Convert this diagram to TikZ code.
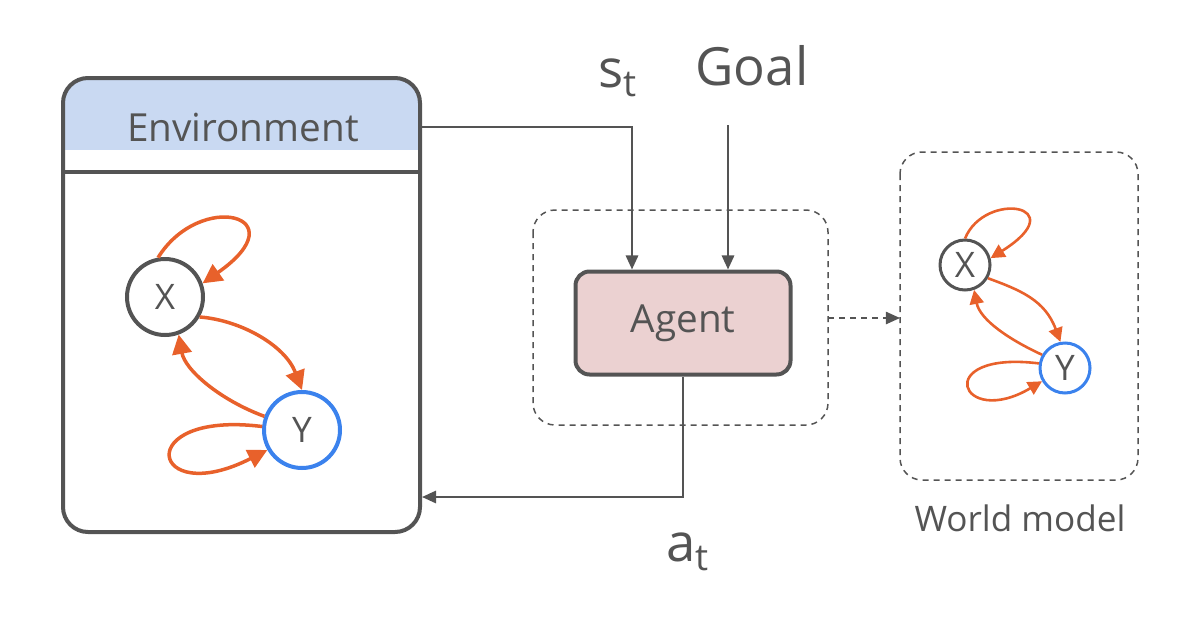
\documentclass[tikz,border=0pt]{standalone}
\usepackage{fontspec}
\setmainfont{Open Sans}
\usetikzlibrary{arrows.meta}
\newlength{\du}
\setlength{\du}{0.2mm}
\definecolor{boxgray}{rgb}{0.33, 0.33, 0.33}
\definecolor{envblue}{rgb}{0.79, 0.85, 0.95}
\definecolor{agentpink}{rgb}{0.92, 0.82, 0.82}
\definecolor{looporange}{rgb}{0.91, 0.38, 0.17}
\definecolor{ynodeblue}{rgb}{0.23, 0.51, 0.93}
\tikzset{
  flow/.style={line width=2.2\du, draw=boxgray, -{Triangle[length=8pt,width=7pt]}},
  bigcause/.style={line width=3.5\du, draw=looporange, -{Triangle[length=11pt,width=11pt]}},
  smallcause/.style={line width=2.6\du, draw=looporange, -{Triangle[length=8pt,width=8pt]}},
  var/.style={circle, line width=4\du, draw=boxgray, text=boxgray, font=\fontsize{20}{20}\selectfont},
  mathlabel/.style={text=boxgray, font=\fontsize{30}{30}\selectfont},
  dashbox/.style={draw=boxgray, line width=1.5\du, dash pattern=on 6\du off 5\du, rounded corners=22\du}
}
\begin{document}
\begin{tikzpicture}[x=\du,y=-\du]
\useasboundingbox (0,0) rectangle (1200,630);
% environment
\fill[envblue, rounded corners=25\du] (63,78) rectangle (420,172);
\fill[white] (63,150) rectangle (420,172);
\draw[boxgray, line width=4\du] (63,172) -- (420,172);
\draw[boxgray, line width=4\du, rounded corners=25\du] (63,78) rectangle (420,532);
\node[text=boxgray, font=\fontsize{22}{22}\selectfont] (env) at (243,128) {Environment};
\coordinate (envout) at (420,127);
\coordinate (envin) at (422,497);
\node[var, minimum size=76\du] (X) at (165,297) {X};
\node[var, draw=ynodeblue, minimum size=76\du] (Y) at (302,430) {Y};
\draw[bigcause] (X.100) .. controls (200,190) and (300,215) .. (X.20);
\draw[bigcause] (X.-30) .. controls (240,320) and (285,345) .. (Y.90);
\draw[bigcause] (Y.160) .. controls (220,400) and (185,370) .. (X.-70);
\draw[bigcause] (Y.175) .. controls (130,410) and (150,510) .. (Y.-150);
% agent
\draw[dashbox] (533,210) rectangle (828,425);
\node[draw=boxgray, fill=agentpink, line width=4\du, rounded corners=14\du,
  minimum width=215\du, minimum height=103\du, text=boxgray,
  font=\fontsize{22}{22}\selectfont] (agent) at (683,323) {Agent};
\node[mathlabel] (st) at (618,78) {$\mathrm{s}_{\mathrm{t}}$};
\node[mathlabel] (goal) at (752,66) {$\mathrm{Goal}$};
\node[mathlabel] (at) at (688,552) {$\mathrm{a}_{\mathrm{t}}$};
\coordinate (goaltop) at (728,125);
\draw[flow] (envout) -| ([xshift=-51\du]agent.north);
\draw[flow] (goaltop) -- (agent.north -| goaltop);
\draw[flow] (agent.south) |- (envin);
% world model
\draw[dashbox] (900,152) rectangle (1138,480);
\node[text=boxgray, font=\fontsize{20}{20}\selectfont] (wm) at (1020,518) {World model};
\draw[flow, dash pattern=on 6\du off 5\du, line width=1.5\du] (828,318) -- (900,318);
\node[var, line width=3\du, minimum size=50\du] (sx) at (965,265) {X};
\node[var, draw=ynodeblue, line width=3\du, minimum size=50\du] (sy) at (1065,368) {Y};
\draw[smallcause] (sx.90) .. controls (985,190) and (1075,205) .. (sx.15);
\draw[smallcause] (sx.-30) .. controls (1020,290) and (1045,300) .. (sy.100);
\draw[smallcause] (sy.150) .. controls (1010,340) and (980,320) .. (sx.-70);
\draw[smallcause] (sy.170) .. controls (930,350) and (960,430) .. (sy.-150);
\end{tikzpicture}
\end{document}
